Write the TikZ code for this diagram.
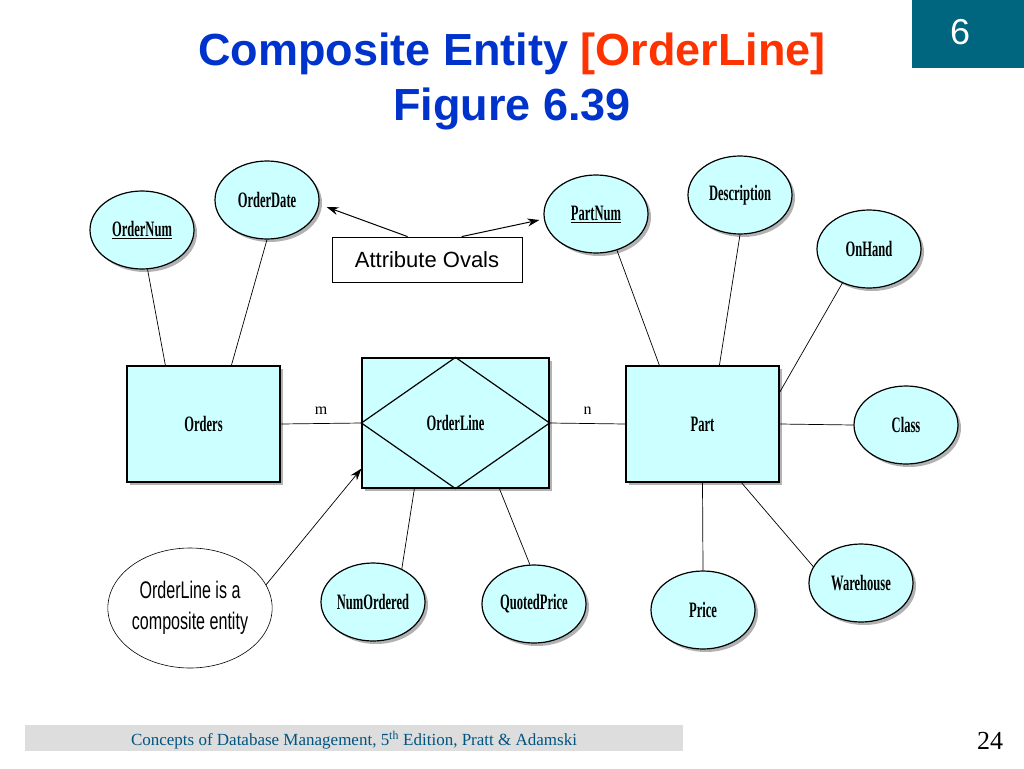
\documentclass[tikz,border=0pt]{standalone}
\usepackage{fontspec}
\setmainfont{Liberation Serif}
\newfontfamily\arialfont{Liberation Sans}
\newfontfamily\erfont[FakeStretch=0.57]{Liberation Serif}
\newfontfamily\notefont[FakeStretch=0.67]{Liberation Sans}
\usetikzlibrary{shapes,arrows.meta,positioning,calc,shadows}
\definecolor{erfill}{RGB}{204,255,255}
\definecolor{titleblue}{RGB}{0,51,204}
\definecolor{titlered}{RGB}{255,51,0}
\definecolor{slideteal}{RGB}{0,102,128}
\definecolor{foottext}{RGB}{0,84,128}
\definecolor{footgray}{RGB}{221,221,221}

\tikzset{
  ershadow/.style={drop shadow={shadow xshift=3pt, shadow yshift=-3pt, fill=black, opacity=0.3}},
  attr/.style={ellipse, draw, line width=1.2pt, fill=erfill, minimum width=104pt, minimum height=78pt, inner sep=0pt, font=\erfont\bfseries\fontsize{22}{24}\selectfont, ershadow},
  entity/.style={rectangle, draw, line width=1.2pt, fill=erfill, inner sep=0pt, font=\erfont\bfseries\fontsize{22}{24}\selectfont, ershadow},
  link/.style={line width=0.7pt},
}
\newcommand{\keyattr}[1]{\underline{#1}}

\begin{document}
\begin{tikzpicture}[x=1pt, y=-1pt, >={Stealth[length=12pt,width=8pt]}]
\fill[white] (0,0) rectangle (1024,768);
\useasboundingbox (0,0) rectangle (1024,768);

% Title
\node[anchor=base, font=\arialfont\bfseries\fontsize{45}{50}\selectfont, text=titleblue] (title) at (512,65) {Composite Entity \textcolor{titlered}{[OrderLine]}};
\node[anchor=base, font=\arialfont\bfseries\fontsize{45}{50}\selectfont, text=titleblue] (figno) at (512,120) {Figure 6.39};
\node[fill=slideteal, minimum width=112pt, minimum height=68pt, anchor=north east, inner sep=0pt] (chapterbox) at (1024,0) {};
\node[text=white, font=\arialfont\fontsize{36}{38}\selectfont] (chapter) at (960,32) {6};

% Entities
\node[entity, minimum width=153pt, minimum height=116pt] (orders) at (203.5,424) {Orders};
\node[entity, minimum width=187pt, minimum height=130pt] (orderline) at (455.5,423) {OrderLine};
\draw[line width=1.2pt] (orderline.west) -- (orderline.north) -- (orderline.east) -- (orderline.south) -- cycle;
\node[entity, minimum width=153pt, minimum height=116pt] (part) at (702.5,424) {Part};

% Attributes
\foreach \name/\px/\py/\txt in {ordernum/142/230/\keyattr{OrderNum}, orderdate/267/200/OrderDate,
    partnum/596/214/\keyattr{PartNum}, description/740/195/Description, onhand/869/249/OnHand,
    class/906/425/Class, price/703/610/Price, warehouse/861/583/Warehouse,
    numordered/373/602/NumOrdered, quotedprice/534/604/QuotedPrice}
  \node[attr] (\name) at (\px,\py) {\txt};

% Connections
\draw[link] (ordernum.-82) -- ($(orders.north west)+(39,0)$);
\draw[link] (orderdate.south) -- ($(orders.north west)+(105,0)$);
\draw[link] (orders.east) -- node[above=5pt, font=\fontsize{16}{18}\selectfont] {m} (orderline.west);
\draw[link] (orderline.east) -- node[above=5pt, font=\fontsize{16}{18}\selectfont] {n} (part.west);
\draw[link] (partnum.-60) -- ($(part.north west)+(34,0)$);
\draw[link] (description.south) -- ($(part.north west)+(94,0)$);
\draw[link] (onhand.-128) -- ($(part.north east)+(0,27)$);
\draw[link] (part.east) -- (class.west);
\draw[link] (part.south) -- (price.north);
\draw[link] ($(part.south west)+(116,0)$) -- (warehouse.161);
\draw[link] ($(orderline.south west)+(53,0)$) -- (numordered.49);
\draw[link] ($(orderline.south west)+(138,0)$) -- (quotedprice.96);

% Labels
\node[draw, fill=white, line width=0.8pt, minimum width=190pt, minimum height=45pt, inner sep=0pt, font=\arialfont\fontsize{22}{24}\selectfont] (attrbox) at (427,259.5) {Attribute Ovals};
\draw[->, line width=1pt] ($(attrbox.north west)+(76,0)$) -- ($(orderdate.east)+(7,7)$);
\draw[->, line width=1pt] ($(attrbox.north west)+(130,0)$) -- ($(partnum.west)+(-4,6)$);

\node[ellipse, draw, fill=white, line width=0.6pt, minimum width=154pt, minimum height=120pt, inner sep=0pt, align=center, font=\notefont\fontsize{24}{31}\selectfont] (note) at (190,608) {OrderLine is a\\composite entity};
\draw[->, link] (note.17) -- ($(orderline.south west)+(0,-20)$);

% Footer
\node[fill=footgray, minimum width=658pt, minimum height=26pt, anchor=north west, inner sep=0pt] (footbar) at (25,725) {};
\node[text=foottext, font=\fontsize{17}{19}\selectfont] (footer) at (354,740) {Concepts of Database Management, 5\textsuperscript{th} Edition, Pratt \& Adamski};
\node[font=\fontsize{26}{28}\selectfont] (pageno) at (990,741) {24};
\end{tikzpicture}
\end{document}
